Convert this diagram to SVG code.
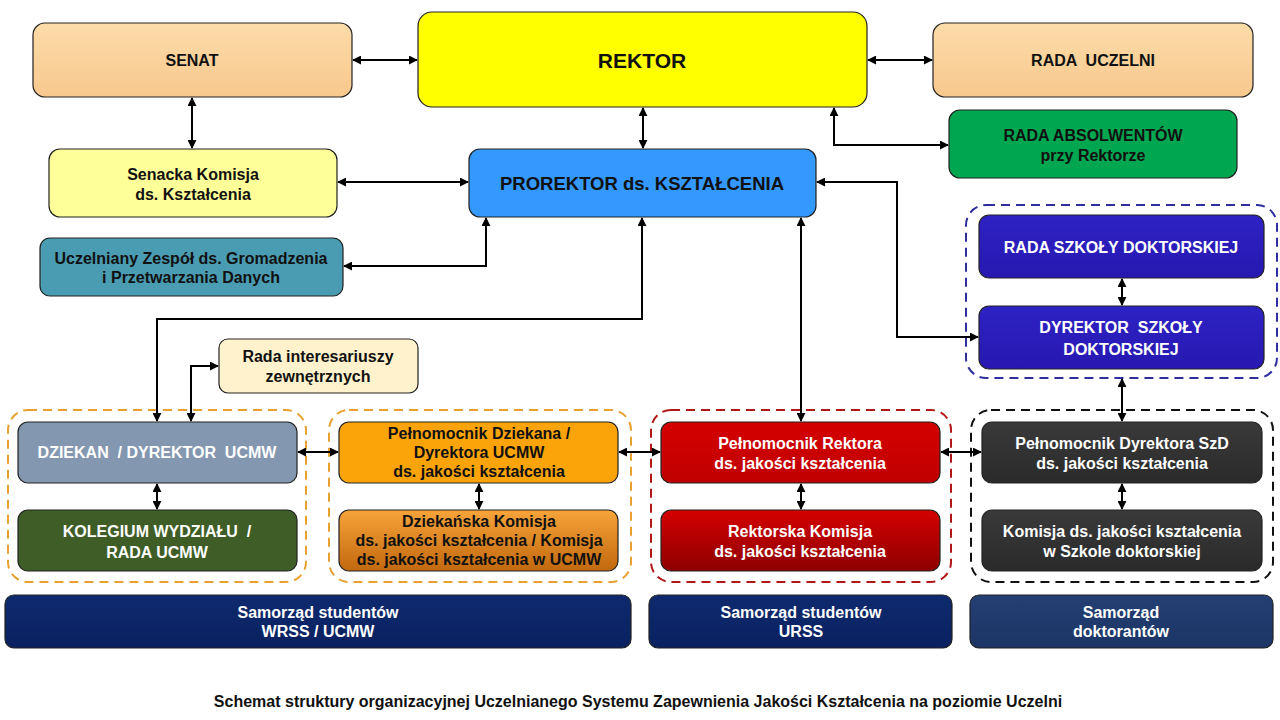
<svg xmlns="http://www.w3.org/2000/svg" width="1280" height="720" viewBox="0 0 1280 720">
<defs>
<style>
text{font-family:"Liberation Sans",Arial,sans-serif;font-weight:bold;text-anchor:middle;white-space:pre;}
.box{stroke:#222;stroke-width:1.2;}
.t{font-size:16px;fill:#111;}
.w{font-size:16px;fill:#fff;}
.con{fill:none;stroke:#000;stroke-width:2;}
.dash{fill:none;stroke-width:2;stroke-dasharray:9 6;}
</style>
<marker id="ah" viewBox="0 0 10 10" refX="9" refY="5" markerWidth="9" markerHeight="9" markerUnits="userSpaceOnUse" orient="auto-start-reverse"><path d="M0,0 L10,5 L0,10 z" fill="#000"/></marker>
<linearGradient id="gSen" x1="0" y1="0" x2="0" y2="1"><stop offset="0" stop-color="#FCDCA8"/><stop offset="1" stop-color="#F8C88E"/></linearGradient>
<linearGradient id="gNavy" x1="0" y1="0" x2="0" y2="1"><stop offset="0" stop-color="#0E2A6E"/><stop offset="1" stop-color="#0A2160"/></linearGradient>
<linearGradient id="gNavy2" x1="0" y1="0" x2="0" y2="1"><stop offset="0" stop-color="#243F73"/><stop offset="1" stop-color="#1C3566"/></linearGradient>
<linearGradient id="gRed" x1="0" y1="0" x2="0" y2="1"><stop offset="0" stop-color="#D40000"/><stop offset="1" stop-color="#C00000"/></linearGradient>
<linearGradient id="gRed2" x1="0" y1="0" x2="0" y2="1"><stop offset="0" stop-color="#D40000"/><stop offset="1" stop-color="#8E0000"/></linearGradient>
<linearGradient id="gOr2" x1="0" y1="0" x2="0" y2="1"><stop offset="0" stop-color="#F7A43A"/><stop offset="1" stop-color="#C2680E"/></linearGradient>
<linearGradient id="gGray" x1="0" y1="0" x2="0" y2="1"><stop offset="0" stop-color="#3A3A3A"/><stop offset="1" stop-color="#2A2A2A"/></linearGradient>
<linearGradient id="gBlue" x1="0" y1="0" x2="0" y2="1"><stop offset="0" stop-color="#2E22C4"/><stop offset="1" stop-color="#2618B0"/></linearGradient>
</defs>
<rect width="1280" height="720" fill="#fff"/>

<g id="containers">
<rect x="966" y="205" width="311" height="173" rx="20" class="dash" stroke="#2E2E9E"/>
<rect x="8" y="410" width="298" height="172" rx="20" class="dash" stroke="#E8A030"/>
<rect x="329" y="410" width="302" height="172" rx="20" class="dash" stroke="#E8A030"/>
<rect x="651" y="410" width="300" height="172" rx="20" class="dash" stroke="#B01818"/>
<rect x="971" y="410" width="302" height="172" rx="20" class="dash" stroke="#111"/>
</g>

<g id="connectors">
<line x1="353" y1="60" x2="417" y2="60" class="con" marker-start="url(#ah)" marker-end="url(#ah)"/>
<line x1="868" y1="60" x2="932" y2="60" class="con" marker-start="url(#ah)" marker-end="url(#ah)"/>
<line x1="192" y1="98" x2="192" y2="148" class="con" marker-start="url(#ah)" marker-end="url(#ah)"/>
<line x1="643" y1="108" x2="643" y2="148" class="con" marker-start="url(#ah)" marker-end="url(#ah)"/>
<polyline points="948,145 834,145 834,108" class="con" marker-start="url(#ah)" marker-end="url(#ah)"/>
<line x1="338" y1="182" x2="468" y2="182" class="con" marker-start="url(#ah)" marker-end="url(#ah)"/>
<polyline points="486,218 486,266 344,266" class="con" marker-start="url(#ah)" marker-end="url(#ah)"/>
<polyline points="642,218 642,319 157,319 157,421" class="con" marker-start="url(#ah)" marker-end="url(#ah)"/>
<polyline points="191,421 191,366 218,366" class="con" marker-start="url(#ah)" marker-end="url(#ah)"/>
<line x1="801" y1="218" x2="801" y2="421" class="con" marker-start="url(#ah)" marker-end="url(#ah)"/>
<polyline points="817,182 897,182 897,337 978,337" class="con" marker-start="url(#ah)" marker-end="url(#ah)"/>
<line x1="1122" y1="279" x2="1122" y2="305" class="con" marker-start="url(#ah)" marker-end="url(#ah)"/>
<line x1="1122" y1="379" x2="1122" y2="421" class="con" marker-start="url(#ah)" marker-end="url(#ah)"/>
<line x1="298" y1="452" x2="338" y2="452" class="con" marker-start="url(#ah)" marker-end="url(#ah)"/>
<line x1="619" y1="452" x2="660" y2="452" class="con" marker-start="url(#ah)" marker-end="url(#ah)"/>
<line x1="941" y1="452" x2="981" y2="452" class="con" marker-start="url(#ah)" marker-end="url(#ah)"/>
<line x1="157" y1="484" x2="157" y2="509" class="con" marker-start="url(#ah)" marker-end="url(#ah)"/>
<line x1="479" y1="484" x2="479" y2="509" class="con" marker-start="url(#ah)" marker-end="url(#ah)"/>
<line x1="801" y1="484" x2="801" y2="509" class="con" marker-start="url(#ah)" marker-end="url(#ah)"/>
<line x1="1122" y1="484" x2="1122" y2="509" class="con" marker-start="url(#ah)" marker-end="url(#ah)"/>
</g>

<g id="senat"><rect x="33" y="23" width="319" height="74" rx="12" class="box" fill="url(#gSen)"/><text x="192" y="66" class="t">SENAT</text></g>
<g id="rektor"><rect x="418" y="12" width="449" height="95" rx="14" class="box" fill="#FFFF00"/><text x="642" y="68" style="font-size:21px;fill:#111">REKTOR</text></g>
<g id="rada-uczelni"><rect x="933" y="23" width="320" height="74" rx="12" class="box" fill="url(#gSen)"/><text x="1093" y="66" class="t" xml:space="preserve">RADA  UCZELNI</text></g>
<g id="rada-absolwentow"><rect x="949" y="110" width="288" height="68" rx="11" class="box" fill="#00A650"/><text x="1093" y="141" class="t">RADA ABSOLWENTÓW</text><text x="1093" y="161" class="t">przy Rektorze</text></g>
<g id="senacka"><rect x="49" y="149" width="288" height="68" rx="11" class="box" fill="#FFFF99"/><text x="193" y="180" class="t">Senacka Komisja</text><text x="193" y="200" class="t">ds. Kształcenia</text></g>
<g id="prorektor"><rect x="469" y="149" width="347" height="68" rx="11" class="box" fill="#3399FF"/><text x="642" y="190" class="t" style="font-size:18.5px">PROREKTOR ds. KSZTAŁCENIA</text></g>
<g id="zespol"><rect x="40" y="238" width="303" height="58" rx="10" class="box" fill="#4A9CB2"/><text x="191" y="264" class="t">Uczelniany Zespół ds. Gromadzenia</text><text x="191" y="283" class="t">i Przetwarzania Danych</text></g>
<g id="interesariusze"><rect x="219" y="339" width="199" height="54" rx="9" class="box" fill="#FFF2CC"/><text x="318" y="362" class="t">Rada interesariuszy</text><text x="318" y="382" class="t">zewnętrznych</text></g>
<g id="rada-sd"><rect x="979" y="215" width="285" height="63" rx="10" class="box" fill="url(#gBlue)"/><text x="1121" y="253" class="w">RADA SZKOŁY DOKTORSKIEJ</text></g>
<g id="dyrektor-sd"><rect x="979" y="306" width="285" height="63" rx="10" class="box" fill="url(#gBlue)"/><text x="1121" y="333" class="w" xml:space="preserve">DYREKTOR  SZKOŁY</text><text x="1121" y="355" class="w">DOKTORSKIEJ</text></g>
<g id="dziekan"><rect x="18" y="422" width="279" height="61" rx="10" class="box" fill="#8497B0"/><text x="157" y="458" class="w" xml:space="preserve">DZIEKAN  / DYREKTOR  UCMW</text></g>
<g id="kolegium"><rect x="18" y="510" width="279" height="61" rx="10" class="box" fill="#3F5E27"/><text x="157" y="537" class="w" xml:space="preserve">KOLEGIUM WYDZIAŁU  /</text><text x="157" y="558" class="w">RADA UCMW</text></g>
<g id="pelnomocnik-dziekana"><rect x="339" y="422" width="279" height="61" rx="10" class="box" fill="#FBA40A"/><text x="479" y="439" class="t">Pełnomocnik Dziekana /</text><text x="479" y="458" class="t">Dyrektora UCMW</text><text x="479" y="477" class="t">ds. jakości kształcenia</text></g>
<g id="komisja-dziekanska"><rect x="339" y="510" width="279" height="61" rx="10" class="box" fill="url(#gOr2)"/><text x="479" y="527" class="t">Dziekańska Komisja</text><text x="479" y="546" class="t">ds. jakości kształcenia / Komisja</text><text x="479" y="565" class="t">ds. jakości kształcenia w UCMW</text></g>
<g id="pelnomocnik-rektora"><rect x="661" y="422" width="279" height="61" rx="10" class="box" fill="url(#gRed)"/><text x="800" y="449" class="w">Pełnomocnik Rektora</text><text x="800" y="469" class="w">ds. jakości kształcenia</text></g>
<g id="komisja-rektorska"><rect x="661" y="510" width="279" height="61" rx="10" class="box" fill="url(#gRed2)"/><text x="800" y="537" class="w">Rektorska Komisja</text><text x="800" y="557" class="w">ds. jakości kształcenia</text></g>
<g id="pelnomocnik-dyrektora"><rect x="982" y="422" width="280" height="61" rx="10" class="box" fill="url(#gGray)"/><text x="1122" y="449" class="w">Pełnomocnik Dyrektora SzD</text><text x="1122" y="469" class="w">ds. jakości kształcenia</text></g>
<g id="komisja-sd"><rect x="982" y="510" width="280" height="61" rx="10" class="box" fill="url(#gGray)"/><text x="1122" y="537" class="w">Komisja ds. jakości kształcenia</text><text x="1122" y="557" class="w">w Szkole doktorskiej</text></g>
<g id="samorzad-wrss"><rect x="5" y="595" width="626" height="53" rx="9" class="box" fill="url(#gNavy)"/><text x="318" y="618" class="w">Samorząd studentów</text><text x="318" y="637" class="w">WRSS / UCMW</text></g>
<g id="samorzad-urss"><rect x="649" y="595" width="303" height="53" rx="9" class="box" fill="url(#gNavy)"/><text x="801" y="618" class="w">Samorząd studentów</text><text x="801" y="637" class="w">URSS</text></g>
<g id="samorzad-doktorantow"><rect x="970" y="595" width="303" height="53" rx="9" class="box" fill="url(#gNavy2)"/><text x="1121" y="618" class="w">Samorząd</text><text x="1121" y="637" class="w">doktorantów</text></g>

<text x="638" y="707" style="font-size:16px;fill:#111">Schemat struktury organizacyjnej Uczelnianego Systemu Zapewnienia Jakości Kształcenia na poziomie Uczelni</text>
</svg>
